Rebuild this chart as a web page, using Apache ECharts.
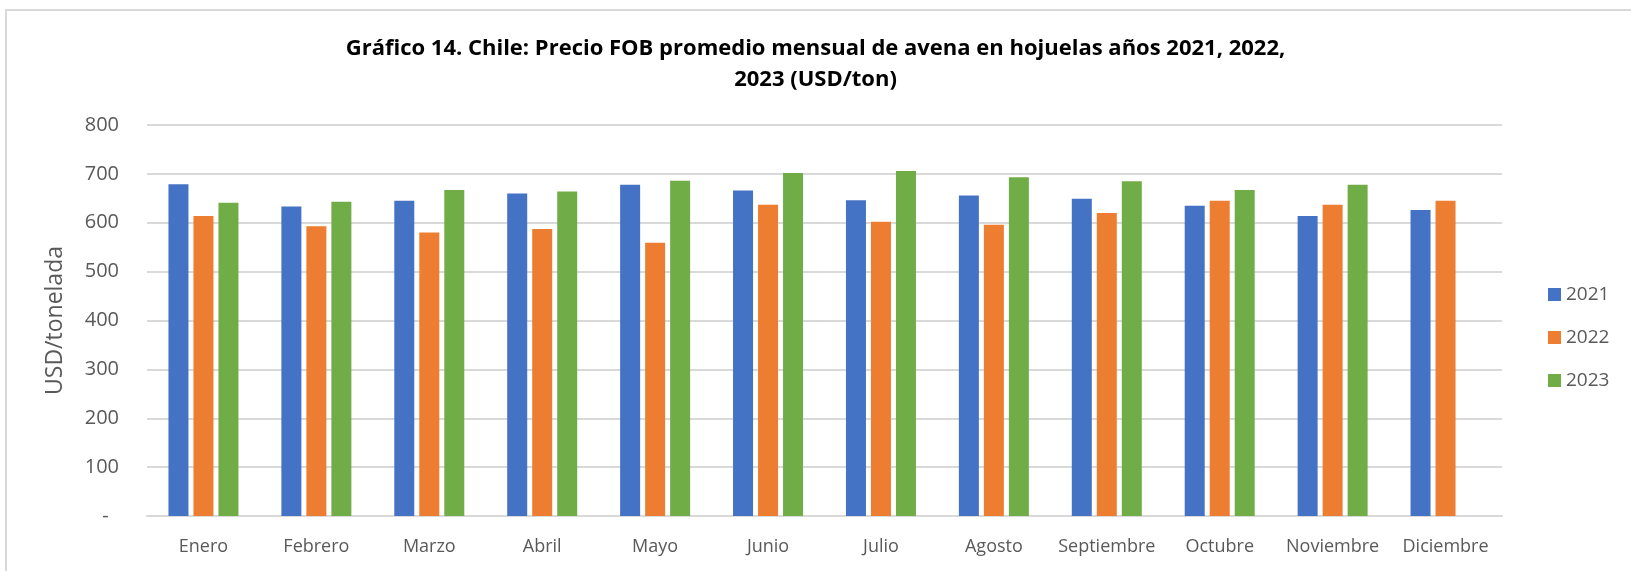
<!DOCTYPE html>
<html>
<head>
<meta charset="utf-8">
<script src="https://cdn.jsdelivr.net/npm/echarts@6/dist/echarts.min.js"></script>
<style>
html,body{margin:0;padding:0;background:#fff;}
#chart{width:1631px;height:571px;}
</style>
</head>
<body>
<div id="chart"></div>
<script>
const months = ['Enero','Febrero','Marzo','Abril','Mayo','Junio','Julio','Agosto','Septiembre','Octubre','Noviembre','Diciembre'];
const seriesNames = ['2021','2022','2023'];
const values2021 = [679, 633, 645, 660, 678, 666, 646, 656, 649, 635, 614, 626];
const values2022 = [614, 593, 580, 587, 559, 637, 602, 596, 620, 645, 637, 645];
const values2023 = [641, 643, 667, 664, 686, 702, 706, 693, 685, 667, 678, null];
const colors = ['#4472C4', '#ED7D31', '#70AD47'];
const titleText = 'Gráfico 14. Chile: Precio FOB promedio mensual de avena en hojuelas años 2021, 2022,\n2023 (USD/ton)';
const yAxisName = 'USD/tonelada';

const chart = echarts.init(document.getElementById('chart'), null, {renderer: 'canvas'});
const font = '"Open Sans", "Noto Sans", sans-serif';
const allValues = [values2021, values2022, values2023];

chart.setOption({
  animation: false,
  backgroundColor: '#ffffff',
  color: colors,
  textStyle: {fontFamily: font},
  title: {
    text: titleText,
    left: 'center',
    top: 28,
    textStyle: {fontFamily: font, fontWeight: 'bold', fontSize: 22, color: '#000', lineHeight: 31}
  },
  graphic: [{
    type: 'rect',
    shape: {x: 6, y: 10, width: 1700, height: 700},
    style: {fill: 'none', stroke: '#d9d9d9', lineWidth: 2},
    silent: true
  }],
  legend: {
    orient: 'vertical',
    left: 1543,
    top: 280,
    itemWidth: 13,
    itemHeight: 13,
    itemGap: 24,
    icon: 'rect',
    textStyle: {fontSize: 19, color: '#595959', fontFamily: font},
    data: seriesNames
  },
  grid: {left: 147, right: 129, top: 125, bottom: 55, containLabel: false},
  xAxis: {
    type: 'category',
    data: months,
    axisLine: {lineStyle: {color: '#d9d9d9', width: 2}},
    axisTick: {show: false},
    axisLabel: {fontSize: 18, color: '#595959', margin: 22, fontFamily: font, interval: 0}
  },
  yAxis: {
    type: 'value',
    min: 0, max: 800, interval: 100,
    name: yAxisName,
    nameLocation: 'middle',
    nameRotate: 90,
    nameGap: 80,
    nameTextStyle: {fontSize: 23, color: '#595959', fontFamily: font},
    axisLine: {show: false},
    axisTick: {show: false},
    splitLine: {lineStyle: {color: '#d9d9d9', width: 2}},
    axisLabel: {
      fontSize: 20, color: '#595959', margin: 28, fontFamily: font,
      formatter: function (v) { return v === 0 ? '-  ' : String(v); }
    }
  },
  series: seriesNames.map((name, i) => ({
    name: name,
    type: 'bar',
    data: allValues[i],
    barWidth: 20,
    barGap: '25%',
    itemStyle: {color: colors[i]}
  }))
});
</script>
</body>
</html>
